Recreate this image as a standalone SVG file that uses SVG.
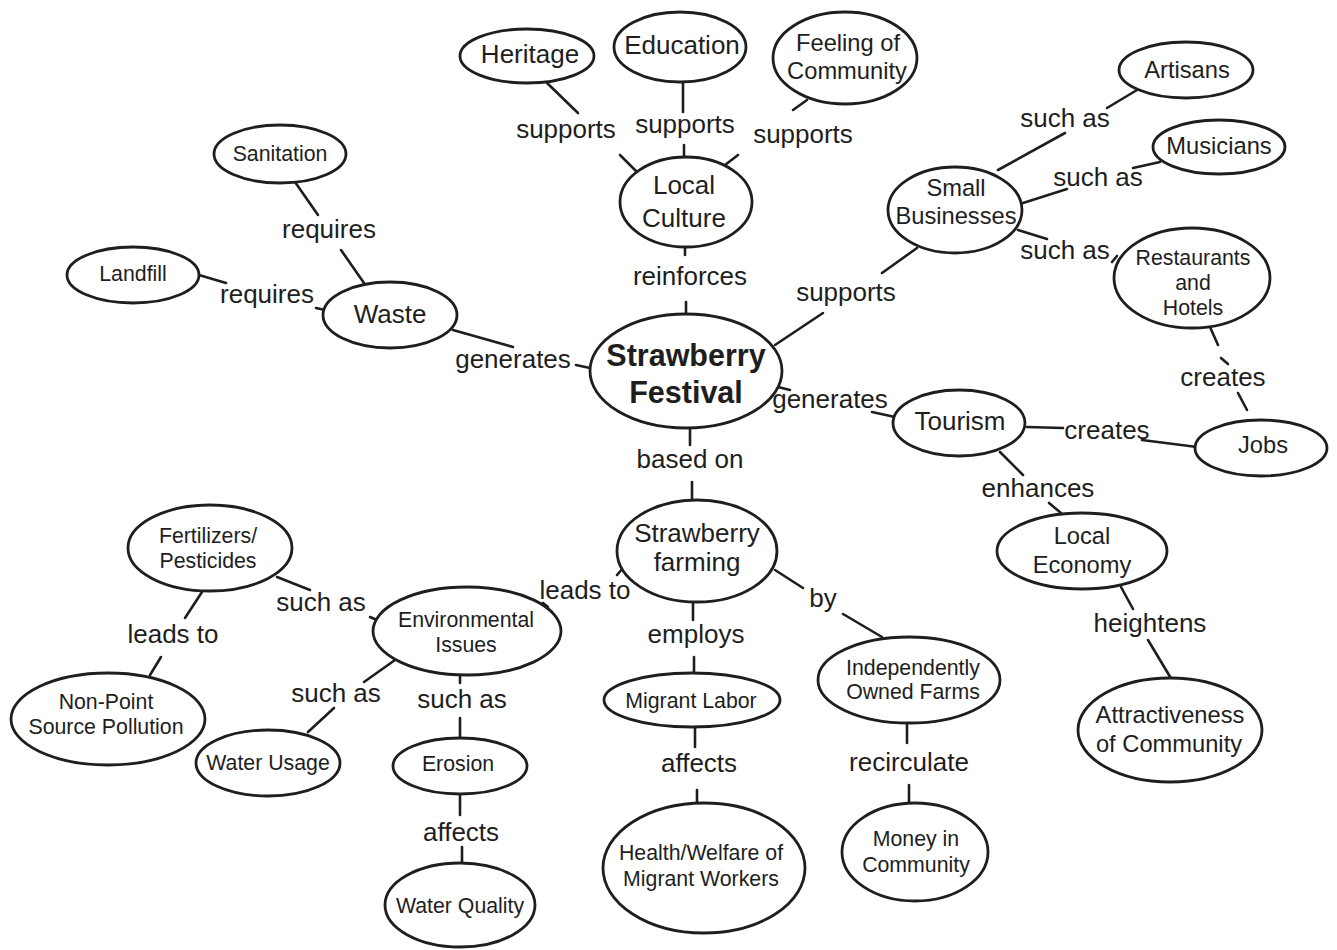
<svg xmlns="http://www.w3.org/2000/svg" width="1337" height="950" viewBox="0 0 1337 950">
<style>
.n ellipse{fill:#fff;stroke:#1e1e1e;stroke-width:2.8}
text{font-family:"Liberation Sans",Arial,sans-serif;fill:#1e1e1e;text-anchor:middle}
.l{font-size:26px}
.b{font-size:26px}
.m{font-size:23.7px}
.s{font-size:21.3px}
.f{font-size:30.5px;font-weight:bold}
#connectors line{stroke:#1e1e1e;stroke-width:2.6;stroke-linecap:round}
</style>
<rect width="1337" height="950" fill="#fff"/>
<g id="connectors">
<line x1="547" y1="83" x2="578" y2="113"/>
<line x1="620" y1="155" x2="637" y2="172"/>
<line x1="683" y1="82" x2="683" y2="112"/>
<line x1="684" y1="145" x2="684" y2="157"/>
<line x1="807" y1="100" x2="793" y2="110"/>
<line x1="738" y1="155" x2="725" y2="165"/>
<line x1="685" y1="247" x2="685" y2="255"/>
<line x1="686" y1="302" x2="686" y2="315"/>
<line x1="775" y1="345" x2="823" y2="313"/>
<line x1="882" y1="273" x2="917" y2="248"/>
<line x1="998" y1="170" x2="1065" y2="133"/>
<line x1="1107" y1="108" x2="1137" y2="90"/>
<line x1="1023" y1="203" x2="1067" y2="189"/>
<line x1="1133" y1="168" x2="1160" y2="162"/>
<line x1="1018" y1="230" x2="1047" y2="239"/>
<line x1="1112" y1="262" x2="1117" y2="256"/>
<line x1="1210" y1="327" x2="1218" y2="345"/>
<line x1="1221" y1="358" x2="1228" y2="364"/>
<line x1="1238" y1="393" x2="1247" y2="410"/>
<line x1="778" y1="387" x2="790" y2="390"/>
<line x1="872" y1="412" x2="895" y2="417"/>
<line x1="1027" y1="427" x2="1063" y2="428"/>
<line x1="1142" y1="440" x2="1197" y2="447"/>
<line x1="1000" y1="452" x2="1023" y2="475"/>
<line x1="1049" y1="503" x2="1061" y2="513"/>
<line x1="1121" y1="587" x2="1133" y2="609"/>
<line x1="1148" y1="640" x2="1172" y2="680"/>
<line x1="690" y1="427" x2="690" y2="445"/>
<line x1="692" y1="482" x2="692" y2="500"/>
<line x1="693" y1="600" x2="693" y2="620"/>
<line x1="694" y1="657" x2="694" y2="673"/>
<line x1="695" y1="727" x2="695" y2="747"/>
<line x1="697" y1="790" x2="697" y2="803"/>
<line x1="775" y1="570" x2="803" y2="588"/>
<line x1="843" y1="614" x2="882" y2="637"/>
<line x1="907" y1="723" x2="907" y2="743"/>
<line x1="909" y1="785" x2="909" y2="803"/>
<line x1="623" y1="568" x2="617" y2="575"/>
<line x1="543" y1="603" x2="548" y2="607"/>
<line x1="370" y1="617" x2="377" y2="620"/>
<line x1="277" y1="577" x2="310" y2="590"/>
<line x1="202" y1="592" x2="185" y2="618"/>
<line x1="161" y1="657" x2="150" y2="675"/>
<line x1="395" y1="660" x2="364" y2="682"/>
<line x1="334" y1="708" x2="308" y2="732"/>
<line x1="460" y1="675" x2="460" y2="683"/>
<line x1="460" y1="718" x2="460" y2="738"/>
<line x1="460" y1="795" x2="460" y2="815"/>
<line x1="462" y1="847" x2="462" y2="863"/>
<line x1="453" y1="330" x2="513" y2="347"/>
<line x1="576" y1="365" x2="590" y2="368"/>
<line x1="341" y1="250" x2="364" y2="283"/>
<line x1="295" y1="182" x2="318" y2="215"/>
<line x1="199" y1="275" x2="226" y2="283"/>
<line x1="316" y1="308" x2="325" y2="310"/>
</g>
<g id="labels">
<text class="l" x="566" y="138">supports</text>
<text class="l" x="685" y="133">supports</text>
<text class="l" x="803" y="143">supports</text>
<text class="l" x="690" y="285">reinforces</text>
<text class="l" x="846" y="301">supports</text>
<text class="l" x="1065" y="127">such as</text>
<text class="l" x="1098" y="186">such as</text>
<text class="l" x="1065" y="259">such as</text>
<text class="l" x="1223" y="386">creates</text>
<text class="l" x="1107" y="439">creates</text>
<text class="l" x="830" y="408">generates</text>
<text class="l" x="1038" y="497">enhances</text>
<text class="l" x="1150" y="632">heightens</text>
<text class="l" x="329" y="238">requires</text>
<text class="l" x="267" y="303">requires</text>
<text class="l" x="513" y="368">generates</text>
<text class="l" x="690" y="468">based on</text>
<text class="l" x="321" y="611">such as</text>
<text class="l" x="173" y="643">leads to</text>
<text class="l" x="585" y="599">leads to</text>
<text class="l" x="336" y="702">such as</text>
<text class="l" x="462" y="708">such as</text>
<text class="l" x="461" y="841">affects</text>
<text class="l" x="696" y="643">employs</text>
<text class="l" x="823" y="607">by</text>
<text class="l" x="699" y="772">affects</text>
<text class="l" x="909" y="771">recirculate</text>
</g>
<g id="festival" class="n"><ellipse cx="686" cy="371" rx="96" ry="57"/><text class="f" x="686" y="366">Strawberry</text><text class="f" x="686" y="403">Festival</text></g>
<g id="heritage" class="n"><ellipse cx="527" cy="56" rx="67" ry="27"/><text class="b" x="530" y="63">Heritage</text></g>
<g id="education" class="n"><ellipse cx="680" cy="47" rx="66" ry="35"/><text class="b" x="682" y="54">Education</text></g>
<g id="feeling" class="n"><ellipse cx="845" cy="58" rx="72" ry="46"/><text class="m" x="848" y="51">Feeling of</text><text class="m" x="847" y="79">Community</text></g>
<g id="localculture" class="n"><ellipse cx="686" cy="202" rx="66" ry="45"/><text class="b" x="684" y="194">Local</text><text class="b" x="684" y="227">Culture</text></g>
<g id="smallbiz" class="n"><ellipse cx="955" cy="210" rx="67" ry="43"/><text class="m" x="956" y="196">Small</text><text class="m" x="956" y="224">Businesses</text></g>
<g id="artisans" class="n"><ellipse cx="1186" cy="70" rx="67" ry="28"/><text class="m" x="1187" y="78">Artisans</text></g>
<g id="musicians" class="n"><ellipse cx="1219" cy="147" rx="66" ry="27"/><text class="m" x="1219" y="154">Musicians</text></g>
<g id="restaurants" class="n"><ellipse cx="1192" cy="278" rx="78" ry="50"/><text class="s" x="1193" y="265">Restaurants</text><text class="s" x="1193" y="290">and</text><text class="s" x="1193" y="315">Hotels</text></g>
<g id="jobs" class="n"><ellipse cx="1261" cy="448" rx="66" ry="28"/><text class="m" x="1263" y="453">Jobs</text></g>
<g id="tourism" class="n"><ellipse cx="959" cy="423" rx="66" ry="33"/><text class="b" x="960" y="430">Tourism</text></g>
<g id="localeconomy" class="n"><ellipse cx="1082" cy="551" rx="85" ry="38"/><text class="m" x="1082" y="544">Local</text><text class="m" x="1082" y="573">Economy</text></g>
<g id="attractiveness" class="n"><ellipse cx="1170" cy="730" rx="92" ry="52"/><text class="m" x="1170" y="723">Attractiveness</text><text class="m" x="1169" y="752">of Community</text></g>
<g id="sanitation" class="n"><ellipse cx="280" cy="154" rx="66" ry="29"/><text class="s" x="280" y="161">Sanitation</text></g>
<g id="landfill" class="n"><ellipse cx="133" cy="275" rx="66" ry="28"/><text class="s" x="133" y="281">Landfill</text></g>
<g id="waste" class="n"><ellipse cx="390" cy="315" rx="67" ry="33"/><text class="b" x="390" y="323">Waste</text></g>
<g id="fertilizers" class="n"><ellipse cx="210" cy="548" rx="82" ry="43"/><text class="s" x="208" y="543">Fertilizers/</text><text class="s" x="208" y="568">Pesticides</text></g>
<g id="nonpoint" class="n"><ellipse cx="108" cy="719" rx="97" ry="46"/><text class="s" x="106" y="709">Non-Point</text><text class="s" x="106" y="734">Source Pollution</text></g>
<g id="environmental" class="n"><ellipse cx="467" cy="631" rx="94" ry="44"/><text class="s" x="466" y="627">Environmental</text><text class="s" x="466" y="652">Issues</text></g>
<g id="waterusage" class="n"><ellipse cx="268" cy="763" rx="72" ry="33"/><text class="s" x="268" y="770">Water Usage</text></g>
<g id="erosion" class="n"><ellipse cx="460" cy="766" rx="67" ry="28"/><text class="s" x="458" y="771">Erosion</text></g>
<g id="waterquality" class="n"><ellipse cx="460" cy="905" rx="75" ry="42"/><text class="s" x="460" y="913">Water Quality</text></g>
<g id="farming" class="n"><ellipse cx="697" cy="551" rx="80" ry="51"/><text class="b" x="697" y="542">Strawberry</text><text class="b" x="697" y="571">farming</text></g>
<g id="migrant" class="n"><ellipse cx="692" cy="700" rx="88" ry="27"/><text class="s" x="691" y="708">Migrant Labor</text></g>
<g id="health" class="n"><ellipse cx="704" cy="868" rx="101" ry="65"/><text class="s" x="701" y="860">Health/Welfare of</text><text class="s" x="701" y="886">Migrant Workers</text></g>
<g id="independent" class="n"><ellipse cx="909" cy="680" rx="91" ry="43"/><text class="s" x="913" y="675">Independently</text><text class="s" x="913" y="699">Owned Farms</text></g>
<g id="money" class="n"><ellipse cx="915" cy="852" rx="73" ry="49"/><text class="s" x="916" y="846">Money in</text><text class="s" x="916" y="872">Community</text></g>
</svg>
